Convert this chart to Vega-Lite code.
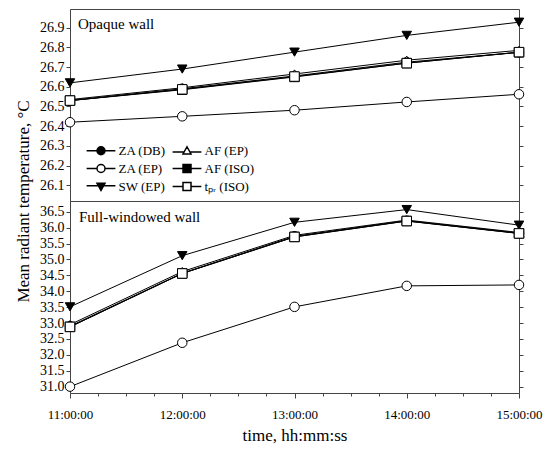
{
  "$schema": "https://vega.github.io/schema/vega-lite/v6.json",
  "padding": {"left": 13, "top": 8, "right": 5, "bottom": 5},
  "spacing": 0,
  "bounds": "flush",
  "config": {
    "font": "Liberation Serif",
    "view": {"stroke": "#444", "strokeWidth": 1},
    "axis": {
      "domain": false,
      "grid": false,
      "tickColor": "#444",
      "labelColor": "black",
      "titleColor": "black",
      "labelFont": "Liberation Serif",
      "titleFont": "Liberation Serif",
      "titleFontWeight": "normal"
    },
    "legend": {"labelFont": "Liberation Serif", "labelColor": "black"}
  },
  "data": {
    "values": [
      {"p": "Opaque wall", "s": "ZA (DB)", "h": 11, "v": 26.53},
      {"p": "Opaque wall", "s": "ZA (DB)", "h": 12, "v": 26.59},
      {"p": "Opaque wall", "s": "ZA (DB)", "h": 13, "v": 26.655},
      {"p": "Opaque wall", "s": "ZA (DB)", "h": 14, "v": 26.725},
      {"p": "Opaque wall", "s": "ZA (DB)", "h": 15, "v": 26.775},
      {"p": "Opaque wall", "s": "AF (ISO)", "h": 11, "v": 26.53},
      {"p": "Opaque wall", "s": "AF (ISO)", "h": 12, "v": 26.585},
      {"p": "Opaque wall", "s": "AF (ISO)", "h": 13, "v": 26.65},
      {"p": "Opaque wall", "s": "AF (ISO)", "h": 14, "v": 26.72},
      {"p": "Opaque wall", "s": "AF (ISO)", "h": 15, "v": 26.775},
      {"p": "Opaque wall", "s": "AF (EP)", "h": 11, "v": 26.535},
      {"p": "Opaque wall", "s": "AF (EP)", "h": 12, "v": 26.595},
      {"p": "Opaque wall", "s": "AF (EP)", "h": 13, "v": 26.665},
      {"p": "Opaque wall", "s": "AF (EP)", "h": 14, "v": 26.735},
      {"p": "Opaque wall", "s": "AF (EP)", "h": 15, "v": 26.785},
      {"p": "Opaque wall", "s": "ZA (EP)", "h": 11, "v": 26.42},
      {"p": "Opaque wall", "s": "ZA (EP)", "h": 12, "v": 26.45},
      {"p": "Opaque wall", "s": "ZA (EP)", "h": 13, "v": 26.481},
      {"p": "Opaque wall", "s": "ZA (EP)", "h": 14, "v": 26.523},
      {"p": "Opaque wall", "s": "ZA (EP)", "h": 15, "v": 26.562},
      {"p": "Opaque wall", "s": "SW (EP)", "h": 11, "v": 26.62},
      {"p": "Opaque wall", "s": "SW (EP)", "h": 12, "v": 26.69},
      {"p": "Opaque wall", "s": "SW (EP)", "h": 13, "v": 26.776},
      {"p": "Opaque wall", "s": "SW (EP)", "h": 14, "v": 26.861},
      {"p": "Opaque wall", "s": "SW (EP)", "h": 15, "v": 26.928},
      {"p": "Opaque wall", "s": "tₚᵣ (ISO)", "h": 11, "v": 26.53},
      {"p": "Opaque wall", "s": "tₚᵣ (ISO)", "h": 12, "v": 26.587},
      {"p": "Opaque wall", "s": "tₚᵣ (ISO)", "h": 13, "v": 26.652},
      {"p": "Opaque wall", "s": "tₚᵣ (ISO)", "h": 14, "v": 26.72},
      {"p": "Opaque wall", "s": "tₚᵣ (ISO)", "h": 15, "v": 26.776},
      {"p": "Full-windowed wall", "s": "ZA (DB)", "h": 11, "v": 32.9},
      {"p": "Full-windowed wall", "s": "ZA (DB)", "h": 12, "v": 34.57},
      {"p": "Full-windowed wall", "s": "ZA (DB)", "h": 13, "v": 35.73},
      {"p": "Full-windowed wall", "s": "ZA (DB)", "h": 14, "v": 36.22},
      {"p": "Full-windowed wall", "s": "ZA (DB)", "h": 15, "v": 35.83},
      {"p": "Full-windowed wall", "s": "AF (ISO)", "h": 11, "v": 32.88},
      {"p": "Full-windowed wall", "s": "AF (ISO)", "h": 12, "v": 34.56},
      {"p": "Full-windowed wall", "s": "AF (ISO)", "h": 13, "v": 35.71},
      {"p": "Full-windowed wall", "s": "AF (ISO)", "h": 14, "v": 36.21},
      {"p": "Full-windowed wall", "s": "AF (ISO)", "h": 15, "v": 35.82},
      {"p": "Full-windowed wall", "s": "AF (EP)", "h": 11, "v": 32.95},
      {"p": "Full-windowed wall", "s": "AF (EP)", "h": 12, "v": 34.62},
      {"p": "Full-windowed wall", "s": "AF (EP)", "h": 13, "v": 35.76},
      {"p": "Full-windowed wall", "s": "AF (EP)", "h": 14, "v": 36.24},
      {"p": "Full-windowed wall", "s": "AF (EP)", "h": 15, "v": 35.85},
      {"p": "Full-windowed wall", "s": "ZA (EP)", "h": 11, "v": 31.0},
      {"p": "Full-windowed wall", "s": "ZA (EP)", "h": 12, "v": 32.38},
      {"p": "Full-windowed wall", "s": "ZA (EP)", "h": 13, "v": 33.51},
      {"p": "Full-windowed wall", "s": "ZA (EP)", "h": 14, "v": 34.17},
      {"p": "Full-windowed wall", "s": "ZA (EP)", "h": 15, "v": 34.2},
      {"p": "Full-windowed wall", "s": "SW (EP)", "h": 11, "v": 33.51},
      {"p": "Full-windowed wall", "s": "SW (EP)", "h": 12, "v": 35.12},
      {"p": "Full-windowed wall", "s": "SW (EP)", "h": 13, "v": 36.17},
      {"p": "Full-windowed wall", "s": "SW (EP)", "h": 14, "v": 36.57},
      {"p": "Full-windowed wall", "s": "SW (EP)", "h": 15, "v": 36.08},
      {"p": "Full-windowed wall", "s": "tₚᵣ (ISO)", "h": 11, "v": 32.88},
      {"p": "Full-windowed wall", "s": "tₚᵣ (ISO)", "h": 12, "v": 34.56},
      {"p": "Full-windowed wall", "s": "tₚᵣ (ISO)", "h": 13, "v": 35.71},
      {"p": "Full-windowed wall", "s": "tₚᵣ (ISO)", "h": 14, "v": 36.21},
      {"p": "Full-windowed wall", "s": "tₚᵣ (ISO)", "h": 15, "v": 35.82}
    ]
  },
  "vconcat": [
    {
      "width": 449,
      "height": 192,
      "title": {"text": "Opaque wall", "anchor": "start", "frame": "group", "baseline": "alphabetic", "offset": -34.5, "dx": 8, "fontSize": 15, "fontWeight": "normal", "font": "Liberation Serif", "color": "black"},
      "transform": [{"filter": "datum.p == 'Opaque wall'"}],
      "encoding": {
        "x": {"field": "h", "type": "quantitative", "scale": {"domain": [11, 15], "nice": false, "zero": false}, "axis": null}
      },
      "layer": [
        {
          "mark": {"type": "line", "color": "black", "strokeWidth": 1},
          "encoding": {
            "detail": {"field": "s"},
            "y": {
              "field": "v", "type": "quantitative",
              "scale": {"domain": [26.02, 26.995], "nice": false, "zero": false},
              "axis": {
                "orient": "left",
                "values": [26.1, 26.2, 26.3, 26.4, 26.5, 26.6, 26.7, 26.8, 26.9],
                "format": ".1f", "labelFont": "Liberation Serif", "labelFontSize": 14, "tickSize": 4, "labelPadding": 2,
                "title": "Mean radiant temperature, °C", "titleFont": "Liberation Serif", "titleFontSize": 17,
                "titleAngle": -90, "titleX": -42, "titleY": 192, "titleAlign": "center", "titleBaseline": "alphabetic"
              }
            }
          }
        },
        {
          "mark": {"type": "point", "filled": true, "size": 90, "stroke": "black", "strokeWidth": 1, "opacity": 1},
          "encoding": {
            "y": {
              "field": "v", "type": "quantitative",
              "axis": {"orient": "right", "values": [26.1, 26.2, 26.3, 26.4, 26.5, 26.6, 26.7, 26.8, 26.9], "labels": false, "tickSize": 4, "title": null}
            },
            "shape": {"field": "s", "scale": {"domain": ["ZA (DB)", "ZA (EP)", "SW (EP)", "AF (EP)", "AF (ISO)", "tₚᵣ (ISO)"], "range": ["circle", "circle", "triangle-down", "triangle-up", "square", "square"]}, "legend": null},
            "fill": {"field": "s", "scale": {"domain": ["ZA (DB)", "ZA (EP)", "SW (EP)", "AF (EP)", "AF (ISO)", "tₚᵣ (ISO)"], "range": ["black", "white", "black", "white", "black", "white"]}, "legend": null}
          }
        },
        {
          "transform": [{"filter": "false"}],
          "mark": {"type": "point", "filled": true, "size": 64, "stroke": "black", "strokeWidth": 1, "opacity": 1},
          "encoding": {
            "shape": {
              "field": "s",
              "scale": {
                "domain": ["ZA (DB)", "ZA (EP)", "SW (EP)", "AF (EP)", "AF (ISO)", "tₚᵣ (ISO)"],
                "range": [
                  "M-3.6,0H3.6M1,0A1,1,0,1,1,-1,0A1,1,0,1,1,1,0Z",
                  "M-3.6,0H-1M1,0H3.6M1,0A1,1,0,1,1,-1,0A1,1,0,1,1,1,0Z",
                  "M-3.6,-0.2H3.6M-1,-0.8H1L0,1Z",
                  "M-3.6,0.3H-0.72M0.72,0.3H3.6M0,-1L1,0.8L-1,0.8Z",
                  "M-3.6,0H3.6M-1,-1H1V1H-1Z",
                  "M-3.6,0H-1M1,0H3.6M-1,-1H1V1H-1Z"
                ]
              },
              "legend": {
                "title": null, "orient": "none", "legendX": 24.5, "legendY": 135, "columns": 2,
                "symbolSize": 64, "labelFont": "Liberation Serif", "labelFontSize": 13, "labelOffset": 11, "columnPadding": 3, "rowPadding": 3, "padding": 0,
                "encode": {"symbols": {"update": {"stroke": {"value": "black"}, "strokeWidth": {"value": 1}, "opacity": {"value": 1}}}}
              }
            },
            "fill": {
              "field": "s",
              "scale": {
                "domain": ["ZA (DB)", "ZA (EP)", "SW (EP)", "AF (EP)", "AF (ISO)", "tₚᵣ (ISO)"],
                "range": ["black", "white", "black", "white", "black", "white"]
              },
              "legend": {
                "title": null, "orient": "none", "legendX": 24.5, "legendY": 135, "columns": 2,
                "symbolSize": 64, "labelFont": "Liberation Serif", "labelFontSize": 13, "labelOffset": 11, "columnPadding": 3, "rowPadding": 3, "padding": 0,
                "encode": {"symbols": {"update": {"stroke": {"value": "black"}, "strokeWidth": {"value": 1}, "opacity": {"value": 1}}}}
              }
            }
          }
        }
      ],
      "resolve": {"scale": {"shape": "independent", "fill": "independent"}, "axis": {"y": "independent"}}
    },
    {
      "width": 449,
      "height": 192,
      "title": {"text": "Full-windowed wall", "anchor": "start", "frame": "group", "baseline": "alphabetic", "offset": -36, "dx": 9, "fontSize": 15, "fontWeight": "normal", "font": "Liberation Serif", "color": "black"},
      "transform": [{"filter": "datum.p == 'Full-windowed wall'"}],
      "encoding": {
        "x": {
          "field": "h", "type": "quantitative",
          "scale": {"domain": [11, 15], "nice": false, "zero": false},
          "axis": {
            "values": [11, 11.25, 11.5, 11.75, 12, 12.25, 12.5, 12.75, 13, 13.25, 13.5, 13.75, 14, 14.25, 14.5, 14.75, 15],
            "labelExpr": "datum.value % 1 == 0 ? datum.value + ':00:00' : ''",
            "tickSize": {"condition": {"test": "datum.value % 1 == 0", "value": 5}, "value": 3},
            "labelFont": "Liberation Serif", "labelFontSize": 13, "labelPadding": 10, "labelFlush": false, "labelOverlap": false,
            "title": "time, hh:mm:ss", "titleFont": "Liberation Serif", "titleFontSize": 17, "titlePadding": 6
          }
        }
      },
      "layer": [
        {
          "mark": {"type": "line", "color": "black", "strokeWidth": 1},
          "encoding": {
            "detail": {"field": "s"},
            "y": {
              "field": "v", "type": "quantitative",
              "scale": {"domain": [30.8, 36.84], "nice": false, "zero": false},
              "axis": {
                "orient": "left",
                "values": [31.0, 31.5, 32.0, 32.5, 33.0, 33.5, 34.0, 34.5, 35.0, 35.5, 36.0, 36.5],
                "format": ".1f", "labelFont": "Liberation Serif", "labelFontSize": 14, "tickSize": 4, "labelPadding": 2, "title": null
              }
            }
          }
        },
        {
          "mark": {"type": "point", "filled": true, "size": 90, "stroke": "black", "strokeWidth": 1, "opacity": 1},
          "encoding": {
            "y": {
              "field": "v", "type": "quantitative",
              "axis": {"orient": "right", "values": [31.0, 31.5, 32.0, 32.5, 33.0, 33.5, 34.0, 34.5, 35.0, 35.5, 36.0, 36.5], "labels": false, "tickSize": 4, "title": null}
            },
            "shape": {"field": "s", "scale": {"domain": ["ZA (DB)", "ZA (EP)", "SW (EP)", "AF (EP)", "AF (ISO)", "tₚᵣ (ISO)"], "range": ["circle", "circle", "triangle-down", "triangle-up", "square", "square"]}, "legend": null},
            "fill": {"field": "s", "scale": {"domain": ["ZA (DB)", "ZA (EP)", "SW (EP)", "AF (EP)", "AF (ISO)", "tₚᵣ (ISO)"], "range": ["black", "white", "black", "white", "black", "white"]}, "legend": null}
          }
        }
      ],
      "resolve": {"axis": {"y": "independent"}}
    }
  ]
}
